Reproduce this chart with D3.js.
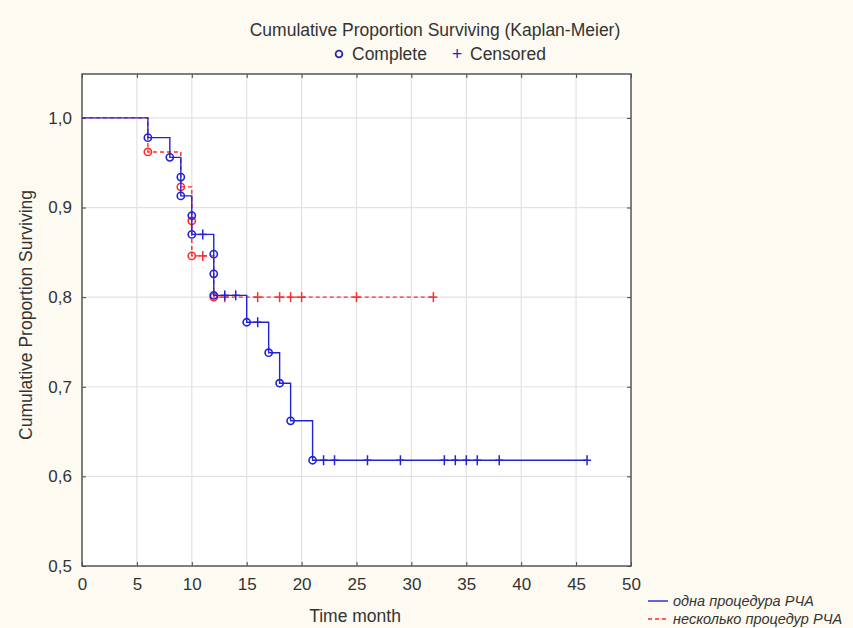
<!DOCTYPE html>
<html>
<head>
<meta charset="utf-8">
<script src="https://cdn.jsdelivr.net/npm/d3@7"></script>
<style>
  body { margin: 0; background: #fdfbf1; }
  text { font-family: "Liberation Sans", Arial, sans-serif; fill: #333; }
</style>
</head>
<body>
<div id="chart"></div>
<script>
// one procedure (blue)
var oneEventTimes = [6, 8, 9, 9, 10, 10, 12, 12, 12, 15, 17, 18, 19, 21];
var oneEventSurv = [0.978, 0.956, 0.934, 0.913, 0.891, 0.870, 0.848, 0.826, 0.802, 0.772, 0.738, 0.704, 0.662, 0.618];
var oneCensored = [11, 13, 14, 16, 22, 23, 26, 29, 33, 34, 35, 36, 38, 46];

// several procedures (red)
var manyEventTimes = [6, 9, 10, 10, 12];
var manyEventSurv = [0.962, 0.923, 0.885, 0.846, 0.800];
var manyCensored = [11, 13, 16, 18, 19, 20, 25, 32];

var xTicks = [0, 5, 10, 15, 20, 25, 30, 35, 40, 45, 50];
var yTicks = [0.5, 0.6, 0.7, 0.8, 0.9, 1.0];
var seriesNames = ["одна процедура РЧА", "несколько процедур РЧА"];

var W = 853, H = 628;
var margin = {top: 74, right: 222, bottom: 62, left: 82},
    width = W - margin.left - margin.right,
    height = H - margin.top - margin.bottom;

var svg = d3.select("#chart").append("svg")
    .attr("width", W).attr("height", H);

var g = svg.append("g")
    .attr("transform", "translate(" + margin.left + "," + margin.top + ")");

var x = d3.scaleLinear().domain([0, 50]).range([0, width]);
var y = d3.scaleLinear().domain([0.5, 1.049]).range([height, 0]);

g.append("rect").attr("width", width).attr("height", height).attr("fill", "#fff");

// grid
g.selectAll(".gx").data(xTicks.slice(1, -1)).enter().append("line")
  .attr("x1", d => x(d)).attr("x2", d => x(d))
  .attr("y1", 0).attr("y2", height)
  .attr("stroke", "#e2e2e2").attr("stroke-width", 1.2);
g.selectAll(".gy").data(yTicks.slice(1)).enter().append("line")
  .attr("x1", 0).attr("x2", width)
  .attr("y1", d => y(d)).attr("y2", d => y(d))
  .attr("stroke", "#e2e2e2").attr("stroke-width", 1.2);

var fmt = d => d3.format(".1f")(d).replace(".", ",");

// axes with inward ticks
var xa = g.append("g").attr("transform", "translate(0," + height + ")")
  .call(d3.axisBottom(x).tickValues(xTicks).tickSizeInner(-4).tickSizeOuter(0).tickPadding(12));
var xt = g.append("g")
  .call(d3.axisTop(x).tickValues(xTicks).tickSizeInner(-4).tickSizeOuter(0).tickFormat(""));
var ya = g.append("g")
  .call(d3.axisLeft(y).tickValues(yTicks).tickSizeInner(-4).tickSizeOuter(0).tickPadding(10).tickFormat(fmt));
var yr = g.append("g").attr("transform", "translate(" + width + ",0)")
  .call(d3.axisRight(y).tickValues(yTicks).tickSizeInner(-4).tickSizeOuter(0).tickFormat(""));
[xa, xt, ya, yr].forEach(function(a) {
  a.select(".domain").remove();
  a.selectAll("line").attr("stroke", "#444");
  a.selectAll("text").style("font-size", "17px").attr("fill", "#444");
});

g.append("rect").attr("width", width).attr("height", height)
  .attr("fill", "none").attr("stroke", "#555").attr("stroke-width", 1.5);

function stepPoints(times, surv, censored) {
  var pts = [[0, 1]];
  var s = 1;
  times.forEach(function(t, i) {
    pts.push([t, s]);
    s = surv[i];
    pts.push([t, s]);
  });
  pts.push([d3.max(censored.concat(times)), s]);
  return pts;
}
function survAt(times, surv, t) {
  var s = 1;
  times.forEach(function(tt, i) { if (tt <= t) s = surv[i]; });
  return s;
}

var line = d3.line().x(d => x(d[0])).y(d => y(d[1]));

function drawSeries(times, surv, censored, color, dash) {
  g.append("path").datum(stepPoints(times, surv, censored))
    .attr("fill", "none").attr("stroke", color).attr("stroke-width", 1.4)
    .attr("stroke-dasharray", dash).attr("d", line);

  g.selectAll(null).data(times.map((t, i) => [t, surv[i]])).enter().append("circle")
    .attr("cx", d => x(d[0])).attr("cy", d => y(d[1])).attr("r", 3.6)
    .attr("fill", "none").attr("stroke", color).attr("stroke-width", 1.6);

  var cz = g.selectAll(null).data(censored.map(t => [t, survAt(times, surv, t)])).enter().append("g")
    .attr("transform", d => "translate(" + x(d[0]) + "," + y(d[1]) + ")");
  cz.append("line").attr("x1", 0).attr("x2", 0).attr("y1", -5).attr("y2", 5)
    .attr("stroke", color).attr("stroke-width", 1.5);
  cz.append("line").attr("x1", -4).attr("x2", 4).attr("y1", 0).attr("y2", 0)
    .attr("stroke", color).attr("stroke-width", 1.5);
}

drawSeries(manyEventTimes, manyEventSurv, manyCensored, "#ff2a2a", "4,3");
drawSeries(oneEventTimes, oneEventSurv, oneCensored, "#2323d6", null);

// axis titles
svg.append("text").attr("x", 355).attr("y", 622)
  .attr("text-anchor", "middle").style("font-size", "17.5px").text("Time month");
svg.append("text").attr("transform", "translate(32,315) rotate(-90)")
  .attr("text-anchor", "middle").style("font-size", "17.5px").text("Cumulative Proportion Surviving");

// title and marker legend
svg.append("text").attr("x", 435).attr("y", 36).attr("text-anchor", "middle")
  .style("font-size", "17.5px").text("Cumulative Proportion Surviving (Kaplan-Meier)");
svg.append("circle").attr("cx", 339).attr("cy", 54).attr("r", 3.4)
  .attr("fill", "none").attr("stroke", "#2a2aa8").attr("stroke-width", 1.8);
svg.append("text").attr("x", 352).attr("y", 60).style("font-size", "17.5px").text("Complete");
svg.append("text").attr("x", 452).attr("y", 60).style("font-size", "17.5px")
  .style("fill", "#2323d6").text("+");
svg.append("text").attr("x", 470).attr("y", 60).style("font-size", "17.5px").text("Censored");

// series legend
var leg = svg.append("g").attr("transform", "translate(648,601)");
[["#2323d6", null], ["#ff2a2a", "4,3"]].forEach(function(s, i) {
  leg.append("line").attr("x1", 0).attr("x2", 20).attr("y1", i * 18).attr("y2", i * 18)
    .attr("stroke", s[0]).attr("stroke-width", 1.4).attr("stroke-dasharray", s[1]);
  leg.append("text").attr("x", 25).attr("y", i * 18 + 5).style("font-size", "14.5px")
    .style("font-style", "italic").text(seriesNames[i]);
});
</script>
</body>
</html>
